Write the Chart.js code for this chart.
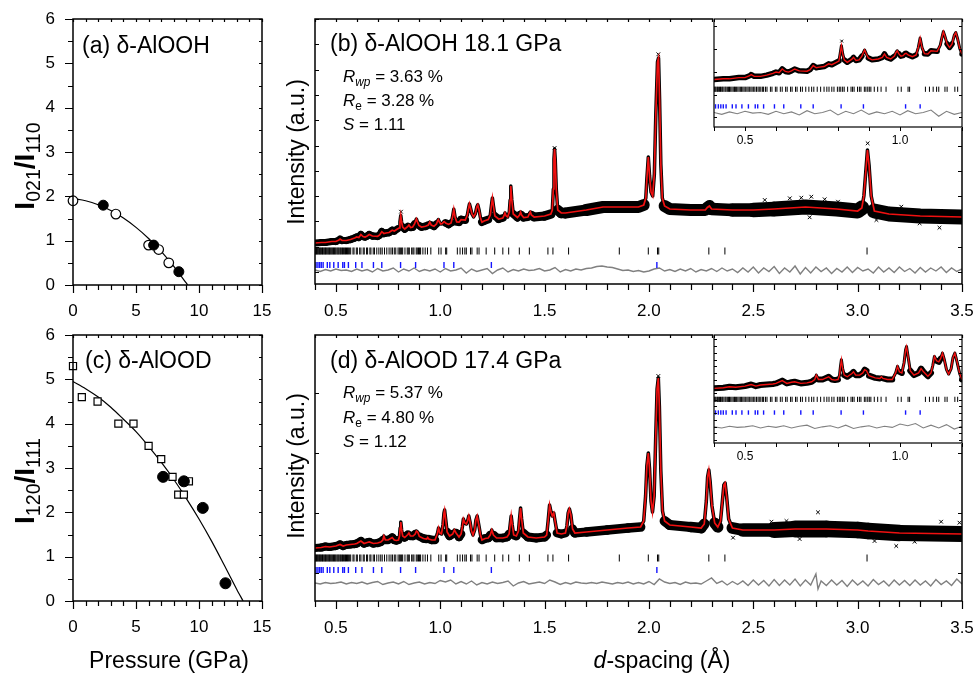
<!DOCTYPE html>
<html><head><meta charset="utf-8">
<script src="https://cdn.jsdelivr.net/npm/chart.js@4/dist/chart.umd.min.js"></script>
<style>
html,body{margin:0;padding:0;background:#fff}
body{width:975px;height:673px;position:relative;overflow:hidden;font-family:"Liberation Sans",Arial,sans-serif;color:#000}
canvas{position:absolute;left:0;top:0}
.t{position:absolute;white-space:nowrap;line-height:1}
.c{transform:translate(-50%,-50%)}
.r{transform:translate(-50%,-50%) rotate(-90deg)}
.sb{font-size:0.7em;vertical-align:-0.32em;line-height:0}
</style></head><body>
<canvas id="ca" width="975" height="673"></canvas>
<canvas id="cc" width="975" height="673"></canvas>
<canvas id="cb" width="975" height="673"></canvas>
<canvas id="cbi" width="975" height="673"></canvas>
<canvas id="cd" width="975" height="673"></canvas>
<canvas id="cdi" width="975" height="673"></canvas>

<div class="t" style="left:82px;top:34px;font-size:23px">(a) δ-AlOOH</div>
<div class="t" style="left:85px;top:349px;font-size:23px">(c) δ-AlOOD</div>
<div class="t" style="left:330px;top:32px;font-size:23px">(b) δ-AlOOH 18.1 GPa</div>
<div class="t" style="left:330px;top:349px;font-size:23px">(d) δ-AlOOD 17.4 GPa</div>
<div class="t" style="left:343px;top:68px;font-size:17px"><i>R</i><span class="sb"><i>wp</i></span> = 3.63 %</div>
<div class="t" style="left:343px;top:92px;font-size:17px"><i>R</i><span class="sb">e</span> = 3.28 %</div>
<div class="t" style="left:343px;top:116px;font-size:17px"><i>S</i> = 1.11</div>
<div class="t" style="left:343px;top:384px;font-size:17px"><i>R</i><span class="sb"><i>wp</i></span> = 5.37 %</div>
<div class="t" style="left:343px;top:409px;font-size:17px"><i>R</i><span class="sb">e</span> = 4.80 %</div>
<div class="t" style="left:343px;top:433px;font-size:17px"><i>S</i> = 1.12</div>
<div class="t r" style="left:25px;top:166px;font-size:28px;font-weight:bold">I<span class="sb" style="font-weight:normal">021</span>/I<span class="sb" style="font-weight:normal">110</span></div>
<div class="t r" style="left:25px;top:481px;font-size:28px;font-weight:bold">I<span class="sb" style="font-weight:normal">120</span>/I<span class="sb" style="font-weight:normal">111</span></div>
<div class="t r" style="left:296px;top:152px;font-size:23px">Intensity (a.u.)</div>
<div class="t r" style="left:296px;top:466px;font-size:23px">Intensity (a.u.)</div>
<div class="t c" style="left:169px;top:660px;font-size:23px">Pressure (GPa)</div>
<div class="t c" style="left:662px;top:660px;font-size:23px"><i>d</i>-spacing (Å)</div>

<script>
// ---------------- tick labels ----------------
const PRESSURE_TICKS = [0, 5, 10, 15];
const RATIO_TICKS = [0, 1, 2, 3, 4, 5, 6];
const D_TICKS = [0.5, 1.0, 1.5, 2.0, 2.5, 3.0, 3.5];
const INSET_TICKS = [0.5, 1.0];

// ---------------- (a) I021/I110 vs pressure ----------------
const aOpen = [[0,1.9],[3.4,1.6],[6.0,0.9],[6.8,0.8],[7.6,0.5]];
const aFilled = [[2.4,1.8],[6.4,0.9],[8.4,0.3]];
const aCurve = [[0,1.95],[1,1.90],[2,1.81],[3,1.68],[4,1.51],[5,1.30],[6,1.05],[7,0.76],[8,0.42],[9,0.04],[9.1,0]];

// ---------------- (c) I120/I111 vs pressure ----------------
const cOpen = [[0,5.3],[0.7,4.6],[1.95,4.5],[3.6,4.0],[4.8,4.0],[6.0,3.5],[7.0,3.2],[7.9,2.8],[8.35,2.4],[8.8,2.4],[9.2,2.7]];
const cFilled = [[7.15,2.8],[8.8,2.7],[10.3,2.1],[12.1,0.4]];
const cCurve = [[0,4.95],[1,4.79],[2,4.60],[3,4.37],[4,4.10],[5,3.82],[6,3.49],[7,3.13],[8,2.74],[9,2.31],[10,1.85],[11,1.35],[12,0.81],[13,0.26],[13.5,0]];

// ---------------- (b) delta-AlOOH 18.1 GPa: calculated profile (d, intensity) ----------------
const fitB = [[0.40,41],[0.43,41.5],[0.45,41.5],[0.48,42.5],[0.50,42.5],[0.515,44],[0.52,45],[0.53,43.5],[0.55,43.5],[0.57,44.5],[0.59,46],[0.60,47],[0.61,46.5],[0.62,49.5],[0.63,47.5],[0.64,47],[0.65,48],[0.66,49.5],[0.675,48],[0.70,47.7],[0.71,49],[0.72,52.3],[0.73,50.5],[0.74,51],[0.755,51.5],[0.77,53.7],[0.78,53],[0.795,55],[0.803,56],[0.807,62],[0.811,68.5],[0.815,62],[0.82,57],[0.83,55],[0.845,57.5],[0.85,59],[0.858,56.5],[0.868,57],[0.877,60],[0.882,63],[0.886,65],[0.891,62],[0.898,58.5],[0.91,57],[0.93,57.7],[0.943,59],[0.95,61.8],[0.957,59],[0.97,57.7],[0.982,60],[0.987,63],[0.991,64.4],[0.996,62],[1.003,60],[1.01,60.4],[1.016,62],[1.02,62.3],[1.026,61],[1.04,59.6],[1.052,61],[1.059,67],[1.065,74.7],[1.071,67],[1.079,62],[1.09,61.8],[1.10,64.4],[1.12,63.9],[1.13,69],[1.136,76],[1.14,80],[1.145,76],[1.152,70],[1.16,67.1],[1.168,70],[1.175,77],[1.18,79.2],[1.186,74],[1.193,66],[1.2,61.8],[1.21,63],[1.23,64.5],[1.24,69],[1.245,78],[1.25,86],[1.255,78],[1.262,68],[1.28,65],[1.3,66],[1.305,68],[1.31,71],[1.316,68],[1.323,67],[1.331,72],[1.335,84],[1.338,98],[1.343,84],[1.35,70],[1.37,66.5],[1.38,69],[1.385,72],[1.39,69],[1.40,66.5],[1.42,67],[1.427,70],[1.432,72],[1.437,69],[1.45,67],[1.5,68],[1.53,70],[1.537,74],[1.542,95],[1.545,125],[1.548,135],[1.551,125],[1.556,95],[1.563,74],[1.58,71],[1.6,71],[1.7,74],[1.78,77],[1.85,77],[1.95,77],[1.975,79],[1.985,86],[1.99,105],[1.997,127],[2.003,108],[2.01,92],[2.018,88],[2.026,110],[2.033,170],[2.041,222],[2.046,226],[2.051,185],[2.057,120],[2.064,86],[2.075,78],[2.1,75],[2.2,74],[2.27,74],[2.28,76.5],[2.29,78],[2.3,75],[2.4,74],[2.5,74],[2.6,75],[2.75,77],[2.9,75],[3.0,73],[3.02,76],[3.03,88],[3.04,115],[3.047,134],[3.055,118],[3.065,88],[3.08,73],[3.15,70],[3.3,68],[3.5,67]];
const obsOutB = [[2.555,84],[2.675,85.7],[2.73,86.3],[2.778,87.3],[2.842,84.7],[2.906,82.3],[3.209,77.3],[2.77,66.7],[3.09,64],[3.297,60.7],[3.392,56.3],[2.045,229.7],[0.812,72.3],[1.548,136],[3.048,140.7]];
const diffB = [[0.400,14],[0.425,12.5],[0.450,14.5],[0.475,13],[0.500,15],[0.525,13.5],[0.550,14],[0.575,12.5],[0.600,15],[0.625,13],[0.650,14.5],[0.675,12],[0.700,15.5],[0.725,13],[0.750,14],[0.775,16],[0.800,12],[0.825,15],[0.850,13],[0.875,16],[0.900,12.5],[0.925,14.5],[0.950,13],[0.975,15],[1.000,12],[1.025,15.5],[1.050,13],[1.075,14],[1.100,16],[1.125,11],[1.150,15],[1.175,12.5],[1.200,14],[1.225,15.5],[1.250,10.5],[1.275,14],[1.300,16],[1.325,12],[1.350,14.5],[1.375,13],[1.400,15],[1.425,13.5],[1.450,14],[1.475,15.5],[1.500,13],[1.525,14],[1.550,16.5],[1.575,12],[1.600,14.5],[1.625,13],[1.650,15],[1.675,14],[1.700,15.5],[1.725,16],[1.750,17.5],[1.775,18],[1.800,17],[1.825,16.5],[1.850,15],[1.875,13.5],[1.900,14],[1.925,12.5],[1.950,13.5],[1.975,12],[2.000,13],[2.025,15],[2.050,16],[2.075,13],[2.100,14.5],[2.125,12.5],[2.150,15],[2.175,13],[2.200,15.5],[2.225,12],[2.250,14.5],[2.275,13],[2.300,15.5],[2.325,12.5],[2.350,16],[2.375,13],[2.400,15],[2.425,11.5],[2.450,16],[2.475,12],[2.500,17],[2.525,11],[2.550,16],[2.575,12.5],[2.600,17.5],[2.625,10.5],[2.650,16],[2.675,12],[2.700,18],[2.725,10],[2.750,16.5],[2.775,11],[2.800,17],[2.825,12.5],[2.850,16],[2.875,10.5],[2.900,15.5],[2.925,12],[2.950,17],[2.975,11.5],[3.000,16.5],[3.025,13],[3.050,15],[3.075,11],[3.100,17],[3.125,12],[3.150,16],[3.175,11.5],[3.200,17],[3.225,12.5],[3.250,15.5],[3.275,11],[3.300,16.5],[3.325,12],[3.350,16],[3.375,13],[3.400,17],[3.425,11.5],[3.450,16],[3.475,12.5],[3.500,15]];

// ---------------- (d) delta-AlOOD 17.4 GPa ----------------
const fitD = [[0.40,53],[0.43,53.5],[0.45,54.5],[0.47,54],[0.50,55],[0.52,56.5],[0.535,55],[0.55,56],[0.57,56.5],[0.59,57],[0.60,57.5],[0.62,60],[0.635,57.5],[0.65,58.5],[0.66,59],[0.68,57.5],[0.70,58],[0.715,59],[0.725,61],[0.73,65],[0.737,61],[0.75,61],[0.758,62],[0.77,63.5],[0.78,61],[0.79,60.5],[0.80,61],[0.805,65],[0.808,73],[0.811,79],[0.815,71],[0.82,65],[0.83,63.5],[0.845,66.5],[0.85,68],[0.857,65],[0.87,65],[0.88,67],[0.886,70],[0.892,69],[0.90,64.5],[0.92,62.5],[0.935,62],[0.94,63.5],[0.945,62],[0.96,61],[0.975,61],[0.986,67],[0.992,73],[0.998,68],[1.006,67],[1.013,76],[1.018,88],[1.021,91],[1.026,82],[1.033,69],[1.045,65],[1.06,67],[1.068,71],[1.076,68],[1.09,64],[1.1,67],[1.106,74],[1.111,82],[1.118,78],[1.125,77],[1.131,80],[1.137,85],[1.143,79],[1.15,70],[1.157,66],[1.165,71],[1.171,81],[1.177,85],[1.184,77],[1.193,66],[1.2,61],[1.215,62.5],[1.23,63],[1.24,66],[1.247,71],[1.255,66],[1.27,63],[1.3,63],[1.32,64],[1.33,67],[1.335,76],[1.34,85],[1.345,76],[1.352,66],[1.365,65],[1.375,70],[1.38,82],[1.385,93],[1.39,82],[1.398,68],[1.42,64],[1.46,63],[1.5,64],[1.51,66],[1.517,80],[1.524,96],[1.531,89],[1.537,85],[1.544,88],[1.551,79],[1.56,68],[1.58,67],[1.6,68],[1.607,75],[1.613,88],[1.619,92],[1.626,86],[1.634,72],[1.645,68],[1.7,69],[1.8,71],[1.9,73],[1.96,74],[1.975,80],[1.984,105],[1.99,135],[1.997,148],[2.003,132],[2.01,100],[2.017,89],[2.025,105],[2.032,160],[2.039,212],[2.045,223],[2.05,195],[2.057,130],[2.065,90],[2.075,80],[2.1,76],[2.2,74],[2.25,73],[2.265,77],[2.275,100],[2.281,124],[2.287,131],[2.293,120],[2.302,95],[2.315,78],[2.33,74],[2.343,80],[2.352,100],[2.359,116],[2.365,118],[2.372,105],[2.382,82],[2.4,73],[2.45,71],[2.6,71],[2.7,72],[2.85,72],[3.0,71],[3.05,70],[3.2,68],[3.5,67]];
const obsOutD = [[2.81,88.7],[2.587,79.3],[2.659,80],[3.488,78.3],[2.722,62],[3.081,60],[3.185,55],[3.273,59.3],[2.403,63.3],[3.4,79.3],[2.045,225]];
const diffD = [[0.400,18],[0.425,17],[0.450,18.5],[0.475,17.5],[0.500,18],[0.525,19],[0.550,17],[0.575,18.5],[0.600,17.5],[0.625,19],[0.650,17],[0.675,18.5],[0.700,19.5],[0.725,16.5],[0.750,18],[0.775,19],[0.800,17],[0.825,19.5],[0.850,16.5],[0.875,18],[0.900,19],[0.925,17],[0.950,18.5],[0.975,17.5],[1.000,20.5],[1.025,19],[1.050,21],[1.075,17],[1.100,19.5],[1.125,17],[1.150,20],[1.175,16],[1.200,18.5],[1.225,17],[1.250,19],[1.275,17.5],[1.300,18.5],[1.325,20],[1.350,15],[1.375,18],[1.400,19.5],[1.425,17],[1.450,18],[1.475,19],[1.500,17.5],[1.525,21],[1.550,19],[1.575,16.5],[1.600,18.5],[1.625,17],[1.650,19],[1.675,18],[1.700,17.5],[1.725,18.5],[1.750,17.5],[1.775,19],[1.800,18],[1.825,17],[1.850,18.5],[1.875,17.5],[1.900,19],[1.925,17],[1.950,18.5],[1.975,17],[2.000,19.5],[2.025,16.5],[2.050,22],[2.075,19],[2.100,17.5],[2.125,18.5],[2.150,16.5],[2.175,19],[2.200,17.5],[2.225,18],[2.250,17],[2.275,20],[2.300,23],[2.325,17.5],[2.350,20],[2.375,16],[2.400,19.5],[2.425,16.5],[2.450,20],[2.475,15.5],[2.500,21],[2.525,16],[2.550,20.5],[2.575,15],[2.600,21.5],[2.625,15.5],[2.650,21],[2.675,16],[2.700,22],[2.725,15],[2.750,21],[2.775,16],[2.800,27],[2.810,12],[2.825,20],[2.850,15.5],[2.875,21],[2.900,16],[2.925,20.5],[2.950,14.5],[2.975,21],[3.000,16],[3.025,20],[3.050,15],[3.075,21.5],[3.100,16.5],[3.125,20],[3.150,15],[3.175,21],[3.200,16],[3.225,20.5],[3.250,15.5],[3.275,21],[3.300,16],[3.325,20],[3.350,15],[3.375,21.5],[3.400,16.5],[3.425,20],[3.450,15.5],[3.475,22],[3.500,17]];

// ---------------- reflection positions (d, Å) ----------------
const hklAlOOH = [0.401,0.404,0.407,0.411,0.414,0.418,0.421,0.425,0.428,0.432,0.436,0.439,0.443,0.447,0.45,0.454,0.458,0.462,0.466,0.469,0.473,0.477,0.481,0.485,0.489,0.493,0.497,0.501,0.506,0.51,0.514,0.519,0.523,0.528,0.532,0.537,0.542,0.546,0.551,0.556,0.56,0.566,0.571,0.582,0.587,0.598,0.603,0.614,0.62,0.631,0.636,0.647,0.652,0.663,0.668,0.679,0.685,0.696,0.706,0.715,0.722,0.733,0.744,0.755,0.764,0.771,0.78,0.787,0.798,0.804,0.809,0.815,0.82,0.831,0.842,0.847,0.852,0.863,0.869,0.874,0.885,0.89,0.896,0.901,0.906,0.917,0.928,0.939,0.955,0.993,1.004,1.026,1.031,1.082,1.095,1.107,1.118,1.125,1.145,1.152,1.177,1.186,1.22,1.261,1.30,1.328,1.379,1.427,1.516,1.54,1.615,1.858,1.997,2.041,2.047,2.287,2.364,3.045];
const hklStd = [0.405,0.414,0.422,0.43,0.439,0.459,0.471,0.49,0.511,0.533,0.541,0.56,0.595,0.625,0.68,0.72,0.81,0.882,1.018,1.065,1.245,2.038];
const ROW_B = {hkl: 33, std: 19};
const ROW_D = {hkl: 43, std: 31};

// ---------------- helpers ----------------
Chart.defaults.font.family = "'Liberation Sans', Arial, sans-serif";
Chart.defaults.color = '#000';
const W = 975, H = 673;
const pts = a => a.map(([x, y]) => ({x, y}));
const row = (xs, y) => xs.map(x => ({x, y}));
function marks(a, b, s) { const o = []; for (let i = 0; a + i * s <= b + 1e-9; i++) o.push(+(a + i * s).toFixed(4)); return o; }

const framePlugin = {
  id: 'frame',
  beforeDraw(chart, args, o) {
    if (!o.fill) return;
    const a = chart.chartArea, c = chart.ctx;
    c.save(); c.fillStyle = '#fff';
    c.fillRect(a.left - 1, a.top - 1, a.right - a.left + 2, a.bottom - a.top + 2);
    c.restore();
  },
  afterDraw(chart, args, o) {
    const c = chart.ctx, a = chart.chartArea, xs = chart.scales.x, ys = chart.scales.y;
    c.save(); c.strokeStyle = '#000';
    c.lineWidth = o.tw || 1.2;
    c.beginPath();
    (o.bottom || []).forEach(([v, l]) => v.forEach(t => { const x = Math.round(xs.getPixelForValue(t)) + 0.5; c.moveTo(x, a.bottom); c.lineTo(x, a.bottom + l); }));
    (o.top || []).forEach(([v, l]) => v.forEach(t => { const x = Math.round(xs.getPixelForValue(t)) + 0.5; c.moveTo(x, a.top); c.lineTo(x, a.top - l); }));
    (o.left || []).forEach(([v, l]) => v.forEach(t => { const y = Math.round(ys.getPixelForValue(t)) + 0.5; c.moveTo(a.left, y); c.lineTo(a.left - l, y); }));
    (o.right || []).forEach(([v, l]) => v.forEach(t => { const y = Math.round(ys.getPixelForValue(t)) + 0.5; c.moveTo(a.right, y); c.lineTo(a.right + l, y); }));
    c.stroke();
    c.lineWidth = o.lw || 1.5;
    c.strokeRect(a.left, a.top, a.right - a.left, a.bottom - a.top);
    c.restore();
  }
};

const X_BAND = 42, Y_BAND = 40;   // space reserved for tick labels
function xAxis(min, max, ticks, size, padding, fmt) {
  return { type: 'linear', min, max, bounds: 'data', position: 'bottom', display: true,
    grid: {display: false, drawTicks: false}, border: {display: false},
    ticks: {padding, font: {size}, color: '#000', maxRotation: 0, minRotation: 0, autoSkip: false, callback: fmt},
    afterBuildTicks: s => { s.ticks = ticks.map(v => ({value: v})); },
    afterFit: s => { s.height = X_BAND; s.paddingLeft = 0; s.paddingRight = 0; } };
}
function yAxis(min, max, ticks, size, padding) {
  return { type: 'linear', min, max, bounds: 'data', position: 'left', display: !!ticks,
    grid: {display: false, drawTicks: false}, border: {display: false},
    ticks: {padding, font: {size}, color: '#000', autoSkip: false, callback: v => String(v)},
    afterBuildTicks: s => { if (ticks) s.ticks = ticks.map(v => ({value: v})); },
    afterFit: s => { s.width = ticks ? Y_BAND : 0; s.paddingTop = 0; s.paddingBottom = 0; } };
}
function make(id, box, x, y, datasets, frame, yShown) {
  const [l, t, r, b] = box;
  return new Chart(document.getElementById(id), {
    type: 'scatter',
    data: {datasets},
    options: { responsive: false, animation: false, devicePixelRatio: 1, events: [],
      layout: {padding: {left: l - (yShown ? Y_BAND : 0), top: t, right: W - r, bottom: H - b - X_BAND}},
      plugins: {legend: {display: false}, tooltip: {enabled: false}, frame},
      scales: {x, y} },
    plugins: [framePlugin]
  });
}

// ---------------- pressure panels ----------------
function pressurePanel(id, box, openPts, filledPts, curve, openStyle, openR, filledR) {
  make(id, box,
    xAxis(0, 15, PRESSURE_TICKS, 17, 16, v => String(v)),
    yAxis(0, 6, RATIO_TICKS, 17, 18),
    [
      {data: pts(filledPts), pointRadius: filledR, pointBackgroundColor: '#000', pointBorderColor: '#000', pointBorderWidth: 1, order: 1, clip: false},
      {data: pts(openPts), pointStyle: openStyle, pointRadius: openR, pointBackgroundColor: '#fff', pointBorderColor: '#000', pointBorderWidth: 1.2, order: 2, clip: false},
      {data: pts(curve), showLine: true, pointRadius: 0, borderColor: '#000', borderWidth: 1.2, tension: 0.3, order: 3, clip: 0}
    ],
    { bottom: [[PRESSURE_TICKS, 8], [marks(0, 15, 1), 5]], top: [[marks(0, 15, 1), -3]],
      left: [[RATIO_TICKS, 8], [marks(0.5, 5.5, 1), 5]], right: [[marks(0, 6, 0.5), -3]] }, true);
}
pressurePanel('ca', [73, 19, 262, 285], aOpen, aFilled, aCurve, 'circle', 4.8, 5);
pressurePanel('cc', [73, 335, 262, 601], cOpen, cFilled, cCurve, 'rect', 5, 5.5);

// ---------------- diffraction panels ----------------
// band thickness (style) of the observed-data trace, as stops along d
function bandSeg(stops, steep) {
  return { borderWidth: c => {
    const a = c.p0, b = c.p1;
    const dx = Math.abs(b.x - a.x), dy = Math.abs(b.y - a.y);
    if (dx < 1.8 || dy > 1.2 * dx + 1.5) return steep;
    const d = c.chart.scales.x.getValueForPixel((a.x + b.x) / 2);
    if (d <= stops[0][0]) return stops[0][1];
    for (let i = 1; i < stops.length; i++) {
      if (d <= stops[i][0]) { const [d0, w0] = stops[i - 1], [d1, w1] = stops[i]; return w0 + (w1 - w0) * (d - d0) / (d1 - d0); }
    }
    return stops[stops.length - 1][1];
  } };
}
function xrdSets(fit, outl, diff, rowY, inset, stops, steep) {
  return [
    {data: pts(fit), showLine: true, pointRadius: 0, borderColor: '#f01010', borderWidth: inset ? 1.4 : 1.7, order: 1, clip: 0},
    {data: pts(outl), pointStyle: 'crossRot', pointRadius: inset ? 2 : 2.6, pointBorderColor: '#000', pointBorderWidth: 1, order: 2, clip: 0},
    {data: pts(fit), showLine: true, pointRadius: 0, borderColor: '#000', borderWidth: stops[0][1], borderJoinStyle: 'round', borderCapStyle: 'round',
      segment: bandSeg(stops, steep), order: 3, clip: 0},
    {data: row(hklAlOOH, rowY.hkl), pointStyle: 'line', rotation: 90, pointRadius: inset ? 2.6 : 3.5, pointBorderColor: '#000', pointBorderWidth: 1, order: 4, clip: 0},
    {data: row(hklStd, rowY.std), pointStyle: 'line', rotation: 90, pointRadius: inset ? 2.2 : 3, pointBorderColor: '#1515ff', pointBorderWidth: 1.4, order: 5, clip: 0},
    {data: pts(diff), showLine: true, pointRadius: 0, borderColor: '#808080', borderWidth: inset ? 1.1 : 1.4, order: 6, clip: 0}
  ];
}
const dFmt = v => Number(v).toFixed(1);

// (b) main + inset
make('cb', [315, 19, 962, 284],
  xAxis(0.4, 3.5, D_TICKS, 17, 17, dFmt), yAxis(0, 265, null),
  xrdSets(fitB, obsOutB, diffB, ROW_B, false, [[0.4, 7], [1.4, 8], [1.7, 12], [2.3, 12], [2.6, 15], [3.5, 15]], 3.5),
  { bottom: [[D_TICKS, 8], [marks(0.4, 3.5, 0.1), 6]], top: [[marks(0.4, 3.5, 0.1), -3]],
    left: [[marks(12, 265, 25.3), -4]], right: [[marks(12, 265, 25.3), -4]] }, false);
make('cbi', [714, 19, 962, 127],
  xAxis(0.4, 1.2, INSET_TICKS, 12, 6, dFmt), yAxis(2.2, 90.3, null),
  xrdSets(fitB, obsOutB, diffB, ROW_B, true, [[0.4, 5.5], [1.2, 5.5]], 3),
  { fill: true, lw: 1.2, tw: 1, bottom: [[marks(0.4, 1.2, 0.1), 4]], top: [[marks(0.4, 1.2, 0.1), -3]],
    left: [[marks(10, 90, 18.6), -3]], right: [[marks(10, 90, 18.6), -3]] }, false);

// (d) main + inset
make('cd', [315, 335, 962, 601],
  xAxis(0.4, 3.5, D_TICKS, 17, 17, dFmt), yAxis(0, 266, null),
  xrdSets(fitD, obsOutD, diffD, ROW_D, false, [[0.4, 8], [1.6, 9], [2.1, 10], [2.45, 12], [2.7, 17], [3.5, 16]], 3.5),
  { bottom: [[D_TICKS, 8], [marks(0.4, 3.5, 0.1), 6]], top: [[marks(0.4, 3.5, 0.1), -3]],
    left: [[marks(28, 266, 60), -4]], right: [[marks(28, 266, 60), -4]] }, false);
make('cdi', [714, 335, 962, 443],
  xAxis(0.4, 1.2, INSET_TICKS, 12, 6, dFmt), yAxis(3.3, 101.5, null),
  xrdSets(fitD, obsOutD, diffD, ROW_D, true, [[0.4, 6], [1.2, 6]], 3),
  { fill: true, lw: 1.2, tw: 1, bottom: [[marks(0.4, 1.2, 0.1), 4]], top: [[marks(0.4, 1.2, 0.1), -3]],
    left: [[marks(6, 101, 6.1), -3]], right: [[marks(6, 101, 6.1), -3]] }, false);
</script>
</body></html>
